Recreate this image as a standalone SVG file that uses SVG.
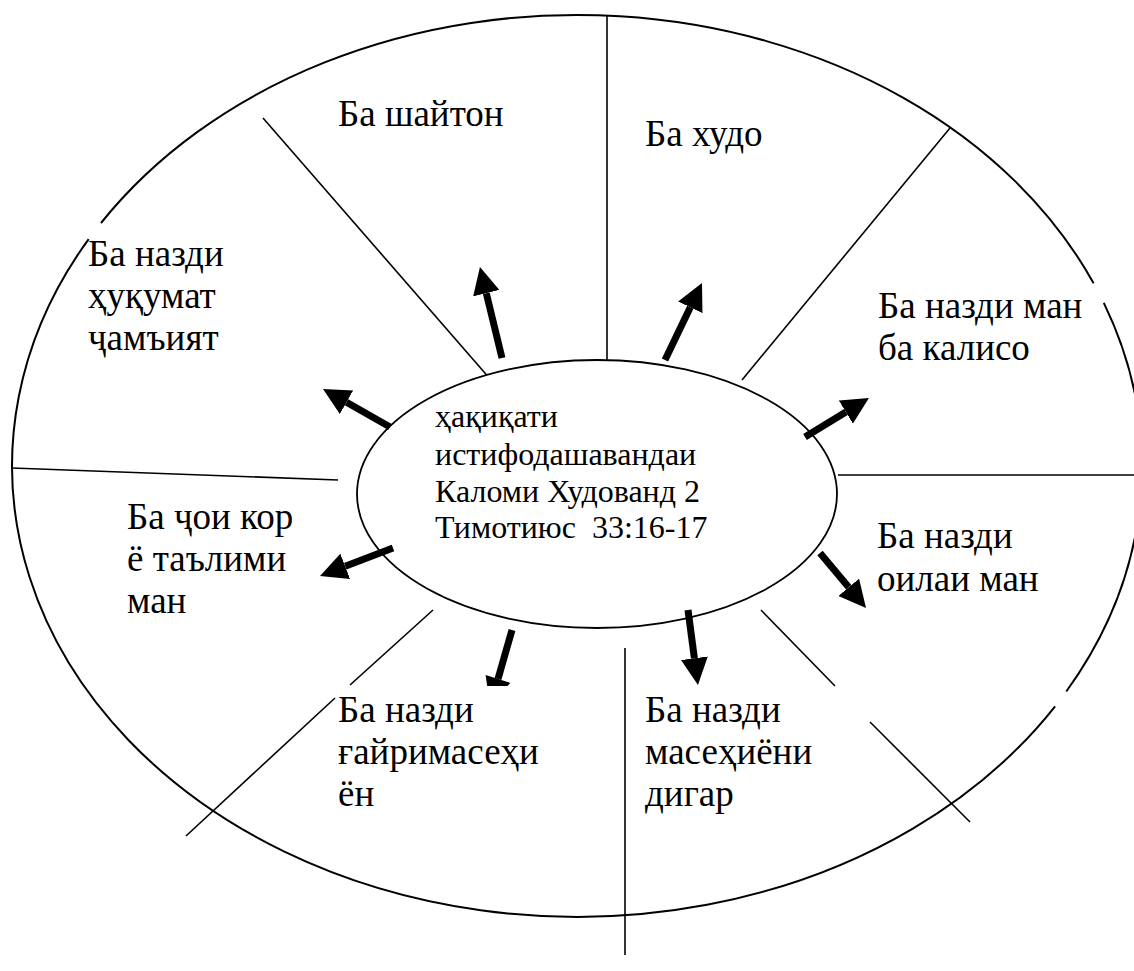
<svg xmlns="http://www.w3.org/2000/svg" width="1134" height="971" viewBox="0 0 1134 971">
<style>
.bg{fill:#fff}
.ln{fill:none;stroke:#000;stroke-width:1.6}
.outer{fill:none;stroke:#000;stroke-width:2}
.inner{fill:#fff;stroke:#000;stroke-width:1.8}
text{font-family:'Liberation Serif','Times New Roman',Tinos,'Noto Serif','DejaVu Serif',serif;fill:#000}
.lbl{font-size:37px}
.ctr{font-size:32px;white-space:pre}
.arr{fill:none;stroke:#000;stroke-width:7;marker-end:url(#ah)}
</style>
<defs>
<marker id="ah" markerUnits="userSpaceOnUse" markerWidth="27" markerHeight="27" viewBox="0 0 10 10" refX="0" refY="5" orient="auto">
<path d="M0,0 L10,5 L0,10 z" fill="#000"/>
</marker>
</defs>
<rect class="bg" x="0" y="0" width="1134" height="971"/>
<g id="outer-ring">
<path class="outer" d="M101,223 A565,451 0 0 1 1093.6,283.3 M1103.8,302.9 A565,451 0 0 1 1066.3,691.5 M1055.1,706.3 A565,451 0 0 1 88.7,239.1"/>
</g>
<g id="dividers">
<line class="ln" x1="607" y1="15" x2="607" y2="360"/>
<line class="ln" x1="263" y1="118" x2="491" y2="380"/>
<line class="ln" x1="950" y1="128" x2="742" y2="380"/>
<line class="ln" x1="12" y1="468" x2="338" y2="480"/>
<line class="ln" x1="838" y1="475" x2="1134" y2="475"/>
<line class="ln" x1="433" y1="610" x2="350" y2="685"/>
<line class="ln" x1="335" y1="698" x2="186" y2="836"/>
<line class="ln" x1="625" y1="648" x2="625" y2="955"/>
<line class="ln" x1="761" y1="610" x2="835" y2="686"/>
<line class="ln" x1="870" y1="722" x2="970" y2="822"/>
</g>
<g id="center">
<ellipse class="inner" cx="597" cy="494" rx="240" ry="134"/>
<text class="ctr" x="435" y="427" font-family="Liberation Serif, serif">ҳақиқати</text>
<text class="ctr" x="435" y="465" font-family="Liberation Serif, serif">истифодашавандаи</text>
<text class="ctr" x="435" y="502" font-family="Liberation Serif, serif">Каломи Худованд 2</text>
<text class="ctr" x="435" y="538" font-family="Liberation Serif, serif">Тимотиюс  33:16-17</text>
</g>
<g id="connectors">
<line class="arr" x1="502" y1="358" x2="486.3" y2="293.2"/>
<line class="arr" x1="665" y1="360" x2="690.3" y2="307.3"/>
<line class="arr" x1="390" y1="427" x2="346.5" y2="402.3"/>
<line class="arr" x1="805" y1="437" x2="845.9" y2="412.1"/>
<line class="arr" x1="393" y1="548" x2="345.2" y2="566.3"/>
<line class="arr" x1="820" y1="553" x2="848.7" y2="587.3"/>
<line class="arr" x1="688" y1="610" x2="694.4" y2="658.2"/>
<line fill="none" stroke="#000" stroke-width="7" x1="512" y1="630" x2="498" y2="679"/>
<polygon points="485.6,675.1 510.4,682.9 507.5,686 487.2,686" fill="#000"/>
</g>
<g id="label-shaiton">
<text class="lbl" x="338" y="126">Ба шайтон</text>
</g>
<g id="label-khudo">
<text class="lbl" x="645" y="146">Ба худо</text>
</g>
<g id="label-hukumat">
<text class="lbl" x="88" y="266">Ба назди</text>
<text class="lbl" x="88" y="308">ҳуқумат</text>
<text class="lbl" x="88" y="350">ҷамъият</text>
</g>
<g id="label-kaliso">
<text class="lbl" x="878" y="318">Ба назди ман</text>
<text class="lbl" x="878" y="360">ба калисо</text>
</g>
<g id="label-kor">
<text class="lbl" x="127" y="529">Ба ҷои кор</text>
<text class="lbl" x="127" y="571">ё таълими</text>
<text class="lbl" x="127" y="613">ман</text>
</g>
<g id="label-oila">
<text class="lbl" x="877" y="548">Ба назди</text>
<text class="lbl" x="877" y="591">оилаи ман</text>
</g>
<g id="label-gayrimasehi">
<text class="lbl" x="338" y="722">Ба назди</text>
<text class="lbl" x="338" y="764">ғайримасеҳи</text>
<text class="lbl" x="338" y="806">ён</text>
</g>
<g id="label-masehiyoni">
<text class="lbl" x="645" y="722">Ба назди</text>
<text class="lbl" x="645" y="764">масеҳиёни</text>
<text class="lbl" x="645" y="806">дигар</text>
</g>
</svg>
